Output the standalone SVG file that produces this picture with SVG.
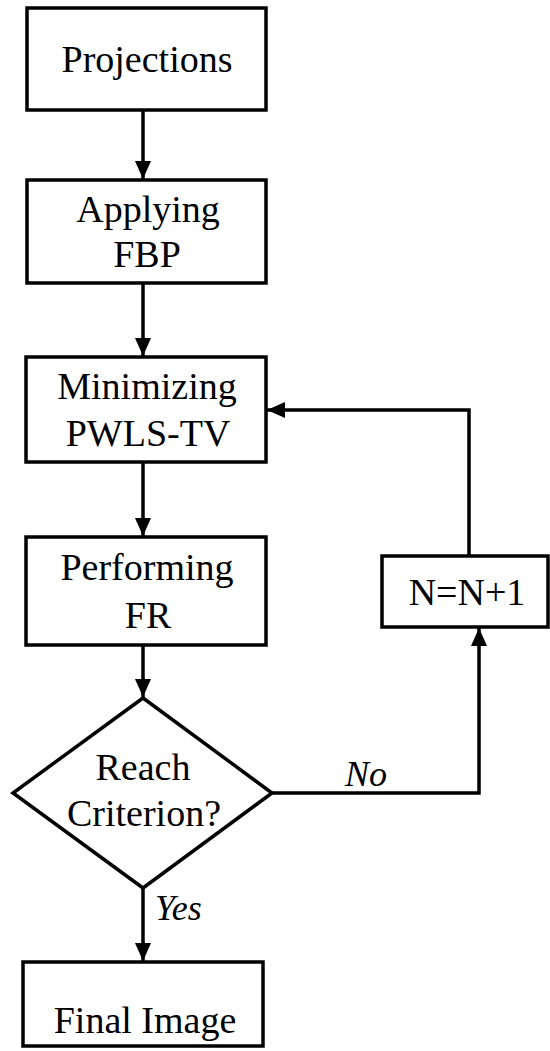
<svg xmlns="http://www.w3.org/2000/svg" width="550" height="1051" viewBox="0 0 550 1051">
<style>
.box{fill:#fff;stroke:#000;stroke-width:3.5}
.t{font-family:"Liberation Serif","Times New Roman",serif;font-size:38px;text-anchor:middle;fill:#000}
.i{font-family:"Liberation Serif","Times New Roman",serif;font-size:36px;font-style:italic;fill:#000}
.c{fill:none;stroke:#000;stroke-width:3.5}
</style>
<defs>
<marker id="arr" viewBox="0 0 18 16" refX="18" refY="8" markerWidth="18" markerHeight="16" markerUnits="userSpaceOnUse" orient="auto">
<path d="M0,0 L18,8 L0,16 Z" fill="#000"/>
</marker>
</defs>
<g id="connectors">
<line class="c" x1="143" y1="110" x2="143" y2="179" marker-end="url(#arr)"/>
<line class="c" x1="143" y1="283" x2="143" y2="356" marker-end="url(#arr)"/>
<line class="c" x1="143" y1="462" x2="143" y2="536" marker-end="url(#arr)"/>
<line class="c" x1="143" y1="645" x2="143" y2="697" marker-end="url(#arr)"/>
<line class="c" x1="143" y1="888" x2="143" y2="961" marker-end="url(#arr)"/>
<polyline class="c" points="272,793 479,793 479,628" marker-end="url(#arr)"/>
<polyline class="c" points="469,556 469,410 267,410" marker-end="url(#arr)"/>
<text class="i" x="345" y="786">No</text>
<text class="i" x="155" y="920">Yes</text>
</g>
<g id="projections">
<rect class="box" x="27" y="8" width="239" height="102"/>
<text class="t" x="147" y="72">Projections</text>
</g>
<g id="fbp">
<rect class="box" x="27" y="180" width="239" height="103"/>
<text class="t" x="148" y="222">Applying</text>
<text class="t" x="147" y="267">FBP</text>
</g>
<g id="minimize">
<rect class="box" x="26" y="357" width="240" height="105"/>
<text class="t" x="147" y="399">Minimizing</text>
<text class="t" x="148" y="446">PWLS-TV</text>
</g>
<g id="fr">
<rect class="box" x="26" y="537" width="240" height="108"/>
<text class="t" x="147" y="580">Performing</text>
<text class="t" x="148" y="628">FR</text>
</g>
<g id="increment">
<rect class="box" x="382" y="556" width="166" height="71"/>
<text class="t" x="467" y="605">N=N+1</text>
</g>
<g id="decision">
<polygon class="box" points="143,698 272,793 143,888 13,793"/>
<text class="t" x="143" y="780">Reach</text>
<text class="t" x="144" y="826">Criterion?</text>
</g>
<g id="final">
<rect class="box" x="23" y="962" width="240" height="84"/>
<text class="t" x="145" y="1033">Final Image</text>
</g>
</svg>
